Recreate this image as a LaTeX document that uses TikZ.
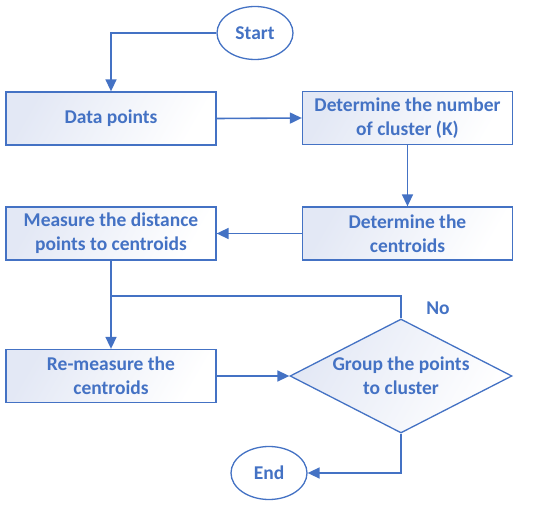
\documentclass[tikz,border=0pt]{standalone}
\usepackage{fontspec}
\setmainfont{Carlito}
\usetikzlibrary{shapes.geometric,arrows.meta}
\definecolor{fcblue}{HTML}{4472C4}
\definecolor{fcfill}{HTML}{E3E8F5}
\begin{document}
\begin{tikzpicture}[x=1pt,y=-1pt,
  every node/.style={font=\bfseries\fontsize{19.5}{24}\selectfont, text=fcblue, align=center, inner sep=0pt},
  box/.style={draw=fcblue, line width=1.3pt, rectangle, minimum width=210pt, minimum height=53pt, left color=fcfill, right color=white, shading angle=60},
  term/.style={draw=fcblue, line width=1.3pt, ellipse, minimum width=76pt, minimum height=53pt, fill=white},
  dec/.style={draw=fcblue, line width=1.3pt, diamond, minimum width=222pt, minimum height=114pt, left color=fcfill, right color=white, shading angle=60},
  conn/.style={draw=fcblue, line width=1.6pt},
  arr/.style={conn, -{Triangle[length=12pt,width=11pt]}}]
\useasboundingbox (0,0) rectangle (550,505);
\node[term] (start) at (255,33) {Start};
\node[box] (data) at (111,118.5) {Data points};
\node[box] (num) at (407.5,118) {Determine the number\\of cluster (K)};
\node[box] (cent) at (407.5,233.5) {Determine the\\centroids};
\node[box] (meas) at (111,233.5) {Measure the distance\\points to centroids};
\node[box] (remeas) at (111,376) {Re-measure the\\centroids};
\node[dec] (grp) at (401,376) {};
\node (grptext) at (401,376) {Group the points\\to cluster};
\node[term] (end) at (269,473) {End};
\node (no) at (438,308) {No};
\coordinate (j) at (111,296);
\coordinate (s1) at (111,33);
\coordinate (j2) at (401,296);
\coordinate (e1) at (401,473);
\draw[arr] (start.west) -- (s1) -- (data.north);
\draw[arr] (data.east) -- (num.west);
\draw[arr] (num.south) -- (cent.north);
\draw[arr] (cent.west) -- (meas.east);
\draw[arr] (meas.south) -- (remeas.north);
\draw[arr] (remeas.east) -- (grp.west);
\draw[conn] (grp.north) -- (j2) -- (j);
\draw[arr] (grp.south) -- (e1) -- (end.east);
\end{tikzpicture}
\end{document}
